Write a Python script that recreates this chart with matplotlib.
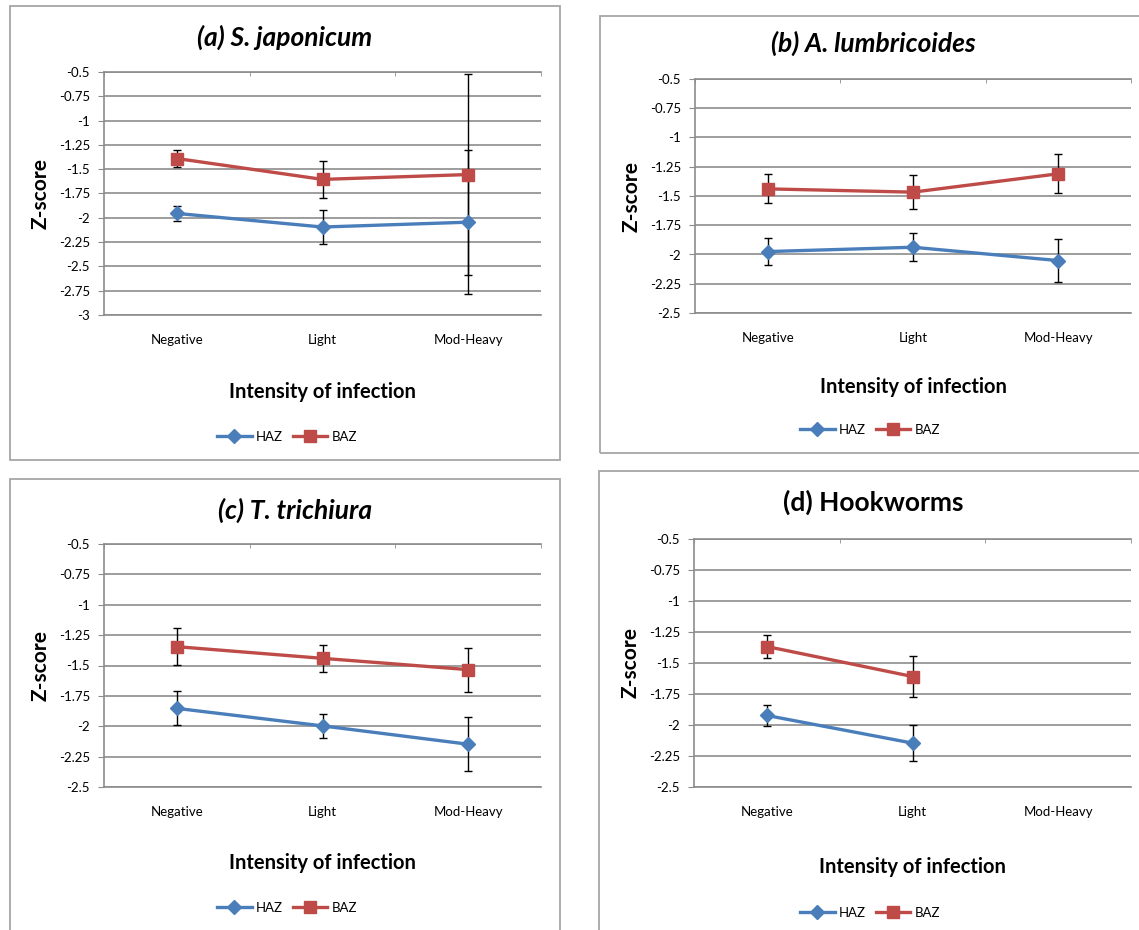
import numpy as np
import matplotlib
matplotlib.use("Agg")
import matplotlib.pyplot as plt
from matplotlib.patches import Rectangle
from matplotlib.ticker import FuncFormatter

plt.rcParams['font.family'] = ['Lato', 'DejaVu Sans']

categories = ["Negative", "Light", "Mod-Heavy"]
series_names = ["HAZ", "BAZ"]

# (a) S. japonicum
haz_a = [-1.955, -2.095, -2.045]
haz_a_err = [0.08, 0.178, 0.74]
baz_a = [-1.39, -1.605, -1.555]
baz_a_err = [0.088, 0.19, 1.03]

# (b) A. lumbricoides
haz_b = [-1.975, -1.938, -2.052]
haz_b_err = [0.115, 0.118, 0.183]
baz_b = [-1.439, -1.467, -1.31]
baz_b_err = [0.124, 0.144, 0.167]

# (c) T. trichiura
haz_c = [-1.853, -1.997, -2.148]
haz_c_err = [0.14, 0.10, 0.224]
baz_c = [-1.345, -1.441, -1.534]
baz_c_err = [0.153, 0.111, 0.18]

# (d) Hookworms - no Mod-Heavy data
haz_d = [-1.923, -2.146, np.nan]
haz_d_err = [0.086, 0.145, np.nan]
baz_d = [-1.367, -1.609, np.nan]
baz_d_err = [0.093, 0.164, np.nan]

titles = ["(a) S. japonicum", "(b) A. lumbricoides", "(c) T. trichiura", "(d) Hookworms"]
title_styles = ["italic", "italic", "italic", "normal"]
y_mins = [-3.0, -2.5, -2.5, -2.5]
y_max = -0.5

W, H = 1139, 930
fig = plt.figure(figsize=(W / 100, H / 100), dpi=100)

blue = "#4a7ebb"
red = "#be4b48"
grid_col = "#8c8c8c"
frame_col = "#a6a6a6"

# panel layout in pixels: border box, plot area, title/xlabel/legend rows
panels = [
    dict(box=(10, 6, 550, 454), plot=(104, 72, 541, 315), title_y=37, xlab_y=392, leg_y=437),
    dict(box=(600, 16, 545, 437), plot=(695, 79, 1131, 313), title_y=43, xlab_y=387, leg_y=430),
    dict(box=(10, 479, 550, 460), plot=(104, 544, 541, 787), title_y=510, xlab_y=863, leg_y=908),
    dict(box=(599, 471, 545, 470), plot=(694, 539, 1131, 787), title_y=502, xlab_y=867, leg_y=913),
]
title_x = [285, 873, 295, 873]
legend_x = [287, 870, 287, 870]

data = [
    (haz_a, haz_a_err, baz_a, baz_a_err),
    (haz_b, haz_b_err, baz_b, baz_b_err),
    (haz_c, haz_c_err, baz_c, baz_c_err),
    (haz_d, haz_d_err, baz_d, baz_d_err),
]


def fmt(v, pos):
    return ("%.2f" % v).rstrip("0").rstrip(".")


x = np.arange(1, len(categories) + 1)

for i, p in enumerate(panels):
    bx, by, bw, bh = p["box"]
    fig.patches.append(Rectangle((bx / W, 1 - (by + bh) / H), bw / W, bh / H,
                                 transform=fig.transFigure, fill=False,
                                 edgecolor=frame_col, linewidth=1.3))
    l, t, r, b = p["plot"]
    ax = fig.add_axes([l / W, 1 - b / H, (r - l) / W, (b - t) / H])
    haz, haz_err, baz, baz_err = data[i]

    ax.errorbar(x, haz, yerr=haz_err, fmt="none", ecolor="black", elinewidth=1.0,
                capsize=3, capthick=1.0, zorder=3)
    ax.errorbar(x, baz, yerr=baz_err, fmt="none", ecolor="black", elinewidth=1.0,
                capsize=3, capthick=1.0, zorder=3)
    ax.plot(x, haz, color=blue, lw=2.4, marker="D", markersize=7, label=series_names[0], zorder=4)
    ax.plot(x, baz, color=red, lw=2.4, marker="s", markersize=8.5, label=series_names[1], zorder=4)

    ax.set_xlim(0.5, len(categories) + 0.5)
    ax.set_ylim(y_mins[i], y_max)
    ax.set_yticks(np.arange(y_mins[i], y_max + 0.01, 0.25))
    ax.yaxis.set_major_formatter(FuncFormatter(fmt))
    ax.set_xticks(x)
    ax.set_xticklabels(categories)
    ax.set_xticks(np.arange(0.5, len(categories) + 1, 1.0), minor=True)
    ax.grid(axis="y", color=grid_col, linewidth=1.2)
    ax.set_axisbelow(True)
    for s in ["top", "bottom", "left"]:
        ax.spines[s].set_color(grid_col)
        ax.spines[s].set_linewidth(1.2)
    ax.spines["right"].set_visible(False)
    ax.tick_params(axis="y", length=4, color=grid_col, labelsize=9.5, pad=6)
    ax.tick_params(axis="x", which="major", length=0, labelsize=9.5, pad=14)
    ax.tick_params(axis="x", which="minor", length=3, color=grid_col, direction="in",
                   bottom=False, top=True)
    ax.set_ylabel("Z-score", fontsize=15, fontweight="bold", labelpad=6)

    fig.text(title_x[i] / W, 1 - p["title_y"] / H, titles[i],
             ha="center", va="center", fontsize=19, fontweight="bold", style=title_styles[i])
    fig.text((l + r) / 2 / W, 1 - p["xlab_y"] / H, "Intensity of infection",
             ha="center", va="center", fontsize=14.5, fontweight="bold")
    ax.legend(loc="center", bbox_to_anchor=(legend_x[i] / W, 1 - p["leg_y"] / H),
              bbox_transform=fig.transFigure, ncol=2, frameon=False, fontsize=9.5,
              handlelength=2.6, columnspacing=0.8, handletextpad=0.3)

fig.savefig("out.png", dpi=100)
